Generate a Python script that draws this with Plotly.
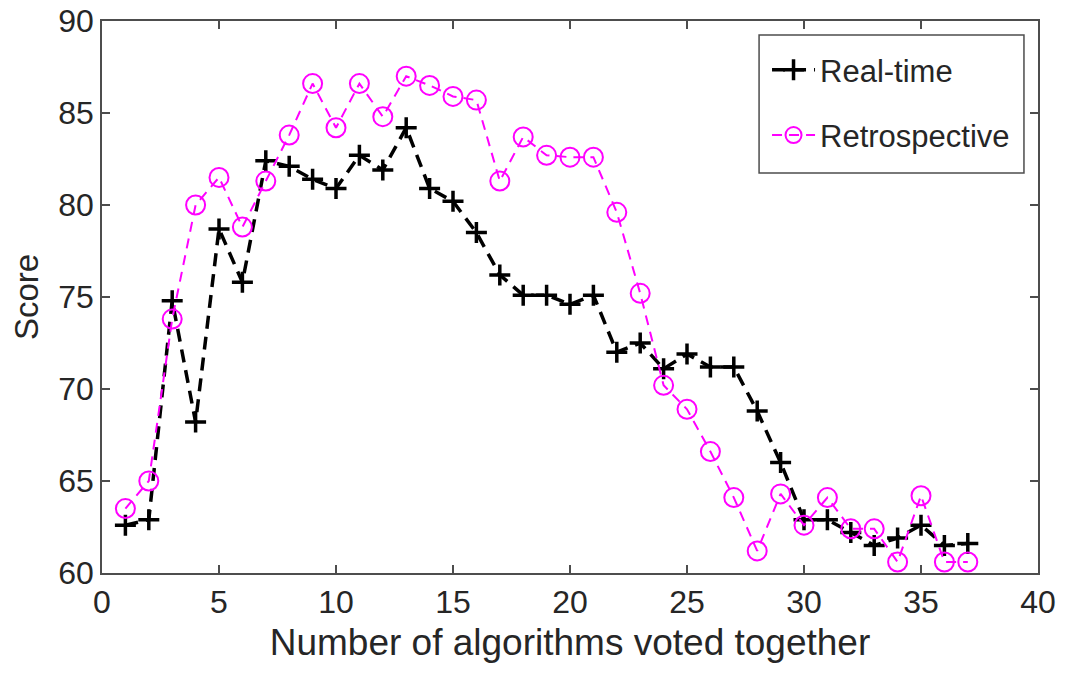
import plotly.graph_objects as go

n_algorithms = list(range(1, 38))
real_time = [62.6, 62.9, 74.8, 68.2, 78.7, 75.8, 82.4, 82.1, 81.4, 80.9,
             82.7, 81.9, 84.2, 80.9, 80.2, 78.5, 76.2, 75.1, 75.1, 74.6,
             75.1, 72.0, 72.5, 71.1, 71.9, 71.2, 71.2, 68.8, 66.0, 62.9,
             62.9, 62.2, 61.5, 61.9, 62.6, 61.5, 61.6]
retrospective = [63.5, 65.0, 73.8, 80.0, 81.5, 78.8, 81.3, 83.8, 86.6, 84.2,
                 86.6, 84.8, 87.0, 86.5, 85.9, 85.7, 81.3, 83.7, 82.7, 82.6,
                 82.6, 79.6, 75.2, 70.2, 68.9, 66.6, 64.1, 61.2, 64.3, 62.6,
                 64.1, 62.4, 62.4, 60.6, 64.2, 60.6, 60.6]

TXT = "#262626"
AX = "#4d4d4d"
FONT = "Liberation Sans, Arial, Helvetica, sans-serif"

fig = go.Figure()
fig.add_trace(go.Scatter(
    x=n_algorithms, y=real_time, name="Real-time", mode="lines+markers",
    line=dict(color="black", width=3.5, dash="13px,8px"),
    marker=dict(symbol="cross-thin", size=15, color="black",
                line=dict(color="black", width=3.5)),
    legendgroup="a",
))
fig.add_trace(go.Scatter(
    x=n_algorithms, y=retrospective, name="Retrospective", mode="lines+markers",
    line=dict(color="#ff00ff", width=2, dash="10px,7px"),
    marker=dict(symbol="circle-open", size=19, color="#ff00ff",
                line=dict(color="#ff00ff", width=2)),
    legendgroup="b",
))

axis_common = dict(
    showline=True, linecolor=AX, linewidth=1.5, mirror="allticks",
    ticks="inside", ticklen=8, tickwidth=1.5, tickcolor=AX,
    showgrid=False, zeroline=False, automargin=False,
    ticklabeloverflow="allow",
    tickfont=dict(size=32, color=TXT, family=FONT),
)

# legend box (paper coordinates of the plot area)
fig.add_shape(type="rect", xref="paper", yref="paper",
              x0=0.702, x1=0.985, y0=0.7246, y1=0.9746,
              line=dict(color=AX, width=1.5), fillcolor="white", layer="above")

fig.update_layout(
    width=1069, height=673,
    paper_bgcolor="white", plot_bgcolor="white",
    margin=dict(l=102, r=31, t=21, b=100, autoexpand=False),
    font=dict(family=FONT, color=TXT),
    xaxis=dict(range=[0, 40], dtick=5, tick0=0,
               title=dict(text="Number of algorithms voted together",
                          font=dict(size=37, color=TXT), standoff=10),
               **axis_common),
    yaxis=dict(range=[60, 90], dtick=5, tick0=60,
               title=dict(text="Score", font=dict(size=33, color=TXT), standoff=10),
               **axis_common),
    legend=dict(
        x=0.7105, y=0.960, xanchor="left", yanchor="top",
        bgcolor="rgba(0,0,0,0)", borderwidth=0,
        font=dict(size=31, color=TXT, family=FONT),
        traceorder="grouped", tracegroupgap=22,
        itemwidth=43,
    ),
    showlegend=True,
)

fig.write_html("out.html", config={"displayModeBar": False},
               post_script="document.body.style.margin='0';")
